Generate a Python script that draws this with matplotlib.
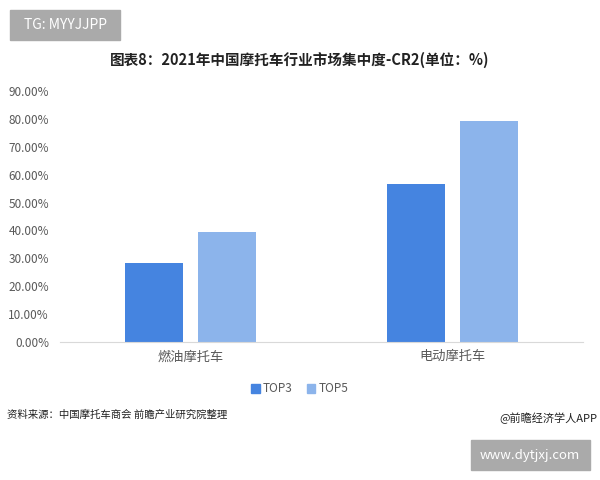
import matplotlib
matplotlib.use("Agg")
import matplotlib.pyplot as plt
from matplotlib.patches import Rectangle, Patch
import numpy as np

plt.rcParams['font.family'] = ['Noto Sans CJK SC', 'DejaVu Sans']

# données
categories = ["燃油摩托车", "电动摩托车"]
series = ["TOP3", "TOP5"]
top3 = [28.2, 56.8]
top5 = [39.4, 79.3]
yticks = [0, 10, 20, 30, 40, 50, 60, 70, 80, 90]

C_TOP3 = "#4584E0"
C_TOP5 = "#8CB4EB"
GRIS = "#595959"

fig = plt.figure(figsize=(6, 4.8), dpi=100)
ax = fig.add_axes([0.1, 0.2875, 0.8717, 0.5229])

x = np.arange(len(categories))
w = 0.222
off = 0.14
ax.bar(x - off, top3, w, color=C_TOP3, label=series[0])
ax.bar(x + off, top5, w, color=C_TOP5, label=series[1])

ax.set_xlim(-0.5, 1.5)
ax.set_ylim(0, 90)
ax.set_yticks(yticks)
ax.set_yticklabels([f"{v:.2f}%" for v in yticks], fontsize=8.5, color=GRIS)
ax.set_xticks(x)
ax.set_xticklabels(categories, fontsize=9.5, color=GRIS)
ax.tick_params(axis='both', length=0)
ax.tick_params(axis='x', pad=6)
ax.tick_params(axis='y', pad=8)
for s in ['top', 'right', 'left']:
    ax.spines[s].set_visible(False)
ax.spines['bottom'].set_color("#d9d9d9")

# légende
handles = [Patch(color=C_TOP3), Patch(color=C_TOP5)]
fig.legend(handles, series, loc='center', bbox_to_anchor=(0.5, 1 - 389 / 480),
           ncol=2, frameon=False, fontsize=8.5, handlelength=0.7, handleheight=0.7,
           handletextpad=0.3, columnspacing=1.2, labelcolor=GRIS)

# titre
fig.text(0.5, 1 - 60 / 480, "图表8：2021年中国摩托车行业市场集中度-CR2(单位：%)",
         ha='center', va='center', fontsize=10.5, fontweight='bold', color="#222222")

# source
fig.text(7 / 600, 1 - 415 / 480, "资料来源：中国摩托车商会 前瞻产业研究院整理",
         ha='left', va='center', fontsize=7.5, color="#222222")
fig.text(597 / 600, 1 - 418 / 480, "@前瞻经济学人APP",
         ha='right', va='center', fontsize=8, color="#222222")

# badges
fig.patches.append(Rectangle((10 / 600, 1 - 40 / 480), 110 / 600, 30 / 480,
                             transform=fig.transFigure, color="#aaaaaa", zorder=0))
fig.text(65 / 600, 1 - 25 / 480, "TG: MYYJJPP", ha='center', va='center',
         fontsize=10, color="white")
fig.patches.append(Rectangle((471 / 600, 1 - 470 / 480), 119 / 600, 30 / 480,
                             transform=fig.transFigure, color="#aaaaaa", zorder=0))
fig.text(530 / 600, 1 - 455 / 480, "www.dytjxj.com", ha='center', va='center',
         fontsize=9.5, color="white")

fig.savefig("out.png", dpi=100)
